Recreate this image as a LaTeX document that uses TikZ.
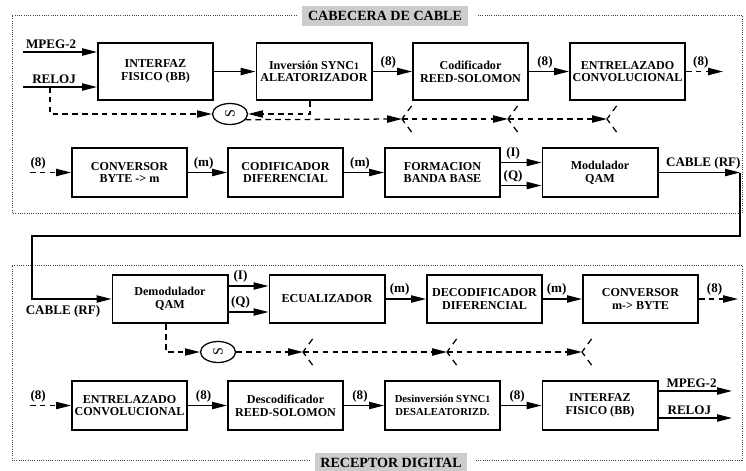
\documentclass[tikz,border=0pt]{standalone}
\usepackage{fontspec}
\usepackage{graphicx}
\setmainfont{Liberation Serif}
\usetikzlibrary{arrows.meta,calc,positioning,shapes.geometric}
\definecolor{TagGray}{HTML}{CCCCCC}
\definecolor{FrameGray}{HTML}{444444}
\tikzset{
  blk/.style={draw,line width=1.4pt,minimum width=2.875cm,inner sep=1pt,align=center,font=\bfseries\fontsize{8.6}{9}\selectfont},
  blkA/.style={blk,minimum height=1.425cm},
  blkB/.style={blk,minimum height=1.22cm},
  lbl/.style={font=\bfseries\fontsize{9.3}{10}\selectfont,inner sep=2pt},
  arr/.style={line width=0.9pt,-{Triangle[length=3.7mm,width=1.8mm]}},
  dsh/.style={dash pattern=on 4pt off 3pt},
  fork/.style={line width=0.9pt,dash pattern=on 3.5pt off 3.5pt on 4.5pt off 10pt},
  frame/.style={draw=FrameGray,line width=0.6pt,dash pattern=on 0.6pt off 1pt},
  tag/.style={fill=TagGray,font=\bfseries\fontsize{10}{11}\selectfont,minimum height=0.5cm,inner sep=0pt},
  sync/.style={ellipse,draw,line width=0.9pt,minimum width=0.875cm,minimum height=0.525cm,inner sep=0pt},
}

\begin{document}
\begin{tikzpicture}[x=0.025cm,y=-0.025cm,line join=miter]
\useasboundingbox (0,0) rectangle (746,470);

% Cabecera de cable
\node[tag,minimum width=4.15cm] (capA) at (385,16) {CABECERA DE CABLE};
\draw[frame] ($(capA.west)+(-5,-1)$) -- (12,15) -- (12,213) -- (742,213) -- (742,15) -- ($(capA.east)+(9,-1)$);

\node[blkA] (ifaz)   at (155.5,71.5) {INTERFAZ\\FISICO (BB)};
\node[blkA] (aleat)  at (314,71.5)   {Inversión SYNC{\scriptsize 1}\\ALEATORIZADOR};
\node[blkA] (rscod)  at (470.5,71.5) {Codificador\\REED-SOLOMON};
\node[blkA] (entrel) at (627.5,71.5) {ENTRELAZADO\\CONVOLUCIONAL};

\node[blkB] (conv)   at (129.5,172.5) {CONVERSOR\\BYTE -> m};
\node[blkB] (codif)  at (285.5,172.5) {CODIFICADOR\\DIFERENCIAL};
\node[blkB] (fbb)    at (442.5,172.5) {FORMACION\\BANDA BASE};
\node[blkB] (modqam) at (600,172.5)   {Modulador\\QAM};

\node[sync] (sinc1) at (230,114) {\rotatebox{90}{S}};

% Receptor digital
\node[tag,minimum width=3.8cm] (capB) at (391,463) {RECEPTOR DIGITAL};
\draw[frame] ($(capB.west)+(-5,-3)$) -- (12,460) -- (12,265) -- (742,265) -- (742,460) -- ($(capB.east)+(9,-3)$);

\node[blkB] (demqam) at (170,299)   {Demodulador\\QAM};
\node[blkB] (ecual)  at (327,299)   {ECUALIZADOR};
\node[blkB] (decod)  at (484.5,299) {DECODIFICADOR\\DIFERENCIAL};
\node[blkB] (convm)  at (640.5,299) {CONVERSOR\\m-> BYTE};

\node[blkB] (entrel2) at (129.5,405.5) {ENTRELAZADO\\CONVOLUCIONAL};
\node[blkB] (rsdec)   at (285.5,405.5) {Descodificador\\REED-SOLOMON};
\node[blkB,font=\bfseries\fontsize{7.6}{9}\selectfont] (desal) at (442.5,405.5) {Desinversión SYNC{\scriptsize 1}\\DESALEATORIZD.};
\node[blkB] (ifaz2)   at (600,405.5)   {INTERFAZ\\FISICO (BB)};

\node[sync] (sinc2) at (218,352) {\rotatebox{90}{S}};

% Free ends
\coordinate (mpegin) at (23,52);
\coordinate (relojin) at (23,87);
\coordinate (relojtap) at (50,87);
\coordinate (entrelout) at (723,71.5);
\coordinate (convin) at (30,172.5);
\coordinate (rfout) at (740,172.5);
\coordinate (rfturn) at (32,236);
\coordinate (convmout) at (738,299);
\coordinate (entrelin) at (30,405.5);
\coordinate (mpegout) at (732,391);
\coordinate (relojout) at (732,418);
\coordinate (t1) at (402,119);
\coordinate (t2) at (508,119);
\coordinate (t3) at (607,119);
\coordinate (u1) at (303,352);
\coordinate (u2) at (447,352);
\coordinate (u3) at (582,352);
\coordinate (fbbI) at ($(fbb.east)+(0,-10)$);
\coordinate (fbbQ) at ($(fbb.east)+(0,13)$);
\coordinate (demI) at ($(demqam.east)+(0,-13)$);
\coordinate (demQ) at ($(demqam.east)+(0,13)$);

% Row 1
\draw[arr] (mpegin) -- node[lbl,above,pos=0.38] {MPEG-2} (mpegin -| ifaz.west);
\draw[arr] (relojin) -- node[lbl,above,pos=0.42] {RELOJ} (relojin -| ifaz.west);
\draw[arr] (ifaz.east) -- (aleat.west);
\draw[arr] (aleat.east) -- node[lbl,above,pos=0.4] {(8)} (rscod.west);
\draw[arr] (rscod.east) -- node[lbl,above,pos=0.4] {(8)} (entrel.west);
\draw[arr,dsh] (entrel.east) -- node[lbl,above,pos=0.4] {(8)} (entrelout);

% Sync line, cabecera
\draw[arr,dsh] (relojtap) |- (sinc1.west);
\draw[arr,dsh] ($(aleat.south)+(-4,0)$) |- (sinc1.east);
\draw[arr,dsh] (sinc1.-20) -- (t1);
\draw[arr,dsh] (t1) -- (t2);
\draw[arr,dsh] (t2) -- (t3);

% Row 2
\draw[arr,dsh] (convin) -- node[lbl,above,pos=0.2] {(8)} (conv.west);
\draw[arr] (conv.east) -- node[lbl,above,pos=0.4] {(m)} (codif.west);
\draw[arr] (codif.east) -- node[lbl,above,pos=0.4] {(m)} (fbb.west);
\draw[arr] (fbbI) -- node[lbl,above,pos=0.3] {(I)} (fbbI -| modqam.west);
\draw[arr] (fbbQ) -- node[lbl,above,pos=0.3] {(Q)} (fbbQ -| modqam.west);
\draw[arr] (modqam.east) -- node[lbl,above,pos=0.55] {CABLE (RF)} (rfout);

% Cable
\draw[arr] (rfout) |- (rfturn) |- (demqam.west);
\node[lbl] (rflab) at (63,311) {CABLE (RF)};

% Row 3
\draw[arr] (demI) -- node[lbl,above,pos=0.3] {(I)} (demI -| ecual.west);
\draw[arr] (demQ) -- node[lbl,above,pos=0.3] {(Q)} (demQ -| ecual.west);
\draw[arr] (ecual.east) -- node[lbl,above,pos=0.35] {(m)} (decod.west);
\draw[arr] (decod.east) -- node[lbl,above,pos=0.35] {(m)} (convm.west);
\draw[arr,dsh] (convm.east) -- node[lbl,above,pos=0.4] {(8)} (convmout);

% Sync line, receptor
\draw[arr,dsh] ($(demqam.south)+(-4,0)$) |- (sinc2.west);
\draw[arr,dsh] (sinc2.east) -- (u1);
\draw[arr,dsh] (u1) -- (u2);
\draw[arr,dsh] (u2) -- (u3);

\foreach \v in {t1,t2,t3,u1,u2,u3}{
  \draw[fork] (\v) -- ++(11,-15);
  \draw[fork] (\v) -- ++(11,15);
}

% Row 4
\draw[arr,dsh] (entrelin) -- node[lbl,above,pos=0.2] {(8)} (entrel2.west);
\draw[arr] (entrel2.east) -- node[lbl,above,pos=0.4] {(8)} (rsdec.west);
\draw[arr] (rsdec.east) -- node[lbl,above,pos=0.4] {(8)} (desal.west);
\draw[arr] (desal.east) -- node[lbl,above,pos=0.4] {(8)} (ifaz2.west);
\draw[arr] (mpegout -| ifaz2.east) -- node[lbl,above,pos=0.45] {MPEG-2} (mpegout);
\draw[arr] (relojout -| ifaz2.east) -- node[lbl,above,pos=0.42] {RELOJ} (relojout);

\end{tikzpicture}
\end{document}
